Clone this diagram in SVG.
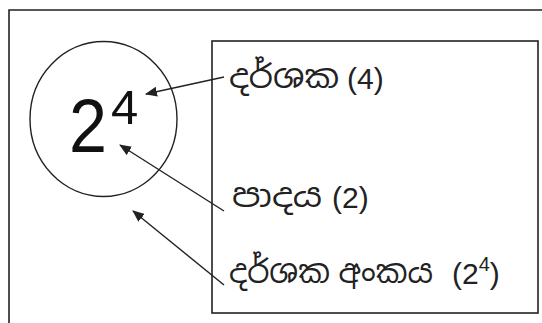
<svg xmlns="http://www.w3.org/2000/svg" width="542" height="323" viewBox="0 0 542 323">
<defs>
<style>
.frame{fill:none;stroke:#222;stroke-width:1.6}
.conn{fill:none;stroke:#222;stroke-width:1.4}
.lbl{font-family:"Liberation Sans","Noto Sans Sinhala","Iskoola Pota","Noto Sans",sans-serif;font-size:30px;fill:#222}
.si{font-size:32px}
.num{font-family:"Liberation Sans","Noto Sans",sans-serif;fill:#111}
</style>
<marker id="ah" viewBox="0 0 12 10" refX="11" refY="5" markerWidth="12" markerHeight="10" markerUnits="userSpaceOnUse" orient="auto">
<path d="M0,0 L12,5 L0,10 Z" fill="#222"/>
</marker>
</defs>
<rect width="542" height="323" fill="#fff"/>
<path class="frame" d="M9,323 V10 H542"/>
<g id="panel">
<rect class="frame" x="212" y="41" width="326" height="272"/>
</g>
<g id="power">
<ellipse cx="103.5" cy="119" rx="73.5" ry="77.5" fill="none" stroke="#222" stroke-width="1.4"/>
<text class="num" x="69" y="152" font-size="76" textLength="38" lengthAdjust="spacingAndGlyphs">2</text>
<text class="num" x="111" y="124" font-size="49">4</text>
</g>
<g id="label-exponent">
<text class="lbl si" x="229" y="88" textLength="110" lengthAdjust="spacingAndGlyphs">දර්ශක</text>
<text class="lbl" x="347" y="89">(4)</text>
</g>
<g id="label-base">
<text class="lbl si" x="232" y="207" textLength="90" lengthAdjust="spacingAndGlyphs">පාදය</text>
<text class="lbl" x="332" y="208">(2)</text>
</g>
<g id="label-power">
<text class="lbl si" x="229" y="283" textLength="204" lengthAdjust="spacingAndGlyphs">දර්ශක අංකය</text>
<text class="lbl" x="452" y="284">(2<tspan font-size="20" dy="-13">4</tspan><tspan dy="13">)</tspan></text>
</g>
<g id="connectors">
<line class="conn" x1="224" y1="77" x2="146" y2="94" marker-end="url(#ah)"/>
<line class="conn" x1="224" y1="211" x2="120" y2="145" marker-end="url(#ah)"/>
<line class="conn" x1="224" y1="285" x2="133" y2="211" marker-end="url(#ah)"/>
</g>
</svg>
